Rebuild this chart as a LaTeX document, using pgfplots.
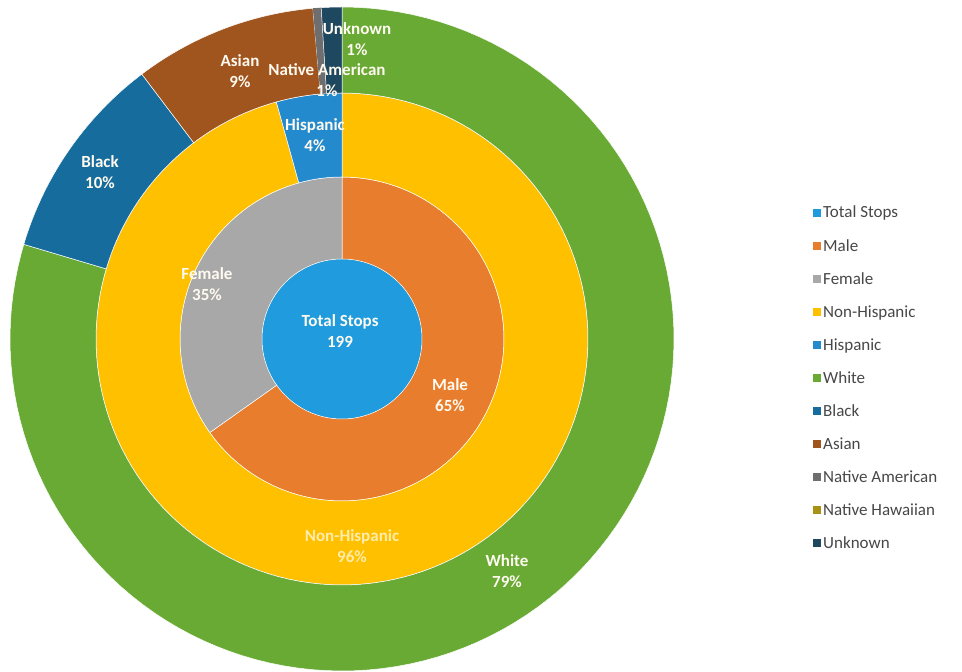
\documentclass[border=0pt]{standalone}
\usepackage{pgfplots}
\pgfplotsset{compat=1.18}
\usepackage{fontspec}
\setmainfont{Carlito}
\definecolor{cTotal}{RGB}{31,155,222}
\definecolor{cMale}{RGB}{232,125,45}
\definecolor{cFemale}{RGB}{168,168,168}
\definecolor{cNonHisp}{RGB}{255,192,0}
\definecolor{cHisp}{RGB}{36,138,206}
\definecolor{cWhite}{RGB}{104,170,52}
\definecolor{cBlack}{RGB}{22,108,156}
\definecolor{cAsian}{RGB}{160,84,30}
\definecolor{cNatAm}{RGB}{110,110,110}
\definecolor{cNatHaw}{RGB}{170,145,20}
\definecolor{cUnknown}{RGB}{30,72,96}
\definecolor{cLbl}{RGB}{255,250,240}
% ring sector: colour, inner radius, outer radius, start %, end % (clockwise from 12 o'clock)
% t in [0,1]: outer arc from start to end; t in [1,2]: inner arc back from end to start
\newcommand{\sector}[6][draw=white]{%
 \addplot[fill=#2, #1, line width=0.5pt, domain=0:2, samples=241, variable=\t]
 ({((\t<=1)?#4:#3)*cos(90-3.6*((\t<=1)?(#5+(#6-#5)*min(1,\t/0.98)):(#6-(#6-#5)*max(0,(\t-1.02)/0.98))))},
  {((\t<=1)?#4:#3)*sin(90-3.6*((\t<=1)?(#5+(#6-#5)*min(1,\t/0.98)):(#6-(#6-#5)*max(0,(\t-1.02)/0.98))))}) -- cycle;
}
\begin{document}
\begin{tikzpicture}
\begin{axis}[
  hide axis, scale only axis, width=962pt, height=671pt,
  xmin=-342, xmax=620, ymin=-332, ymax=339, clip=false,
  legend style={at={(axis cs:468,137)}, anchor=north west, draw=none, fill=none,
    font=\fontsize{17}{20}\selectfont, text=black!72, row sep=15.8pt,
    /tikz/every even column/.append style={column sep=4pt}},
  legend cell align=left,
  legend image code/.code={\fill[#1, draw=none] (0pt,-4pt) rectangle (8pt,4pt);},
]
% inner circle
\sector[draw=none]{cTotal}{0}{80}{0}{100}
\addlegendentry{Total Stops}
% gender ring
\sector{cMale}{80}{162}{0}{65.2}
\addlegendentry{Male}
\sector{cFemale}{80}{162}{65.2}{100}
\addlegendentry{Female}
% ethnicity ring
\sector{cNonHisp}{162}{246}{0}{95.7}
\addlegendentry{Non-Hispanic}
\sector{cHisp}{162}{246}{95.7}{100}
\addlegendentry{Hispanic}
% race ring
\sector{cWhite}{246}{332}{0}{79.6}
\addlegendentry{White}
\sector{cBlack}{246}{332}{79.6}{89.7}
\addlegendentry{Black}
\sector{cAsian}{246}{332}{89.7}{98.6}
\addlegendentry{Asian}
\sector[draw=none]{cNatAm}{246}{332}{98.6}{99.0}
\addlegendentry{Native American}
\addlegendimage{fill=cNatHaw}
\addlegendentry{Native Hawaiian}
\sector{cUnknown}{246}{332}{99.0}{100}
\addlegendentry{Unknown}
% labels
\begin{scope}[every node/.style={font=\bfseries\fontsize{17}{21.5}\selectfont, text=cLbl, align=center, inner sep=0.5pt}]
\node at (axis cs:-2,8) {Total Stops\\199};
\node at (axis cs:-135,55) {Female\\35\%};
\node at (axis cs:108,-56) {Male\\65\%};
\node[text={rgb,255:red,255;green,236;blue,170}] at (axis cs:10,-207) {Non-Hispanic\\96\%};
\node at (axis cs:-27,204) {Hispanic\\4\%};
\node at (axis cs:165,-232) {White\\79\%};
\node at (axis cs:-242,167) {Black\\10\%};
\node at (axis cs:-102,268) {Asian\\9\%};
\node at (axis cs:-15,259) {Native American\\1\%};
\node at (axis cs:15,300) {Unknown\\1\%};
\end{scope}
\path (rel axis cs:0,0) rectangle (rel axis cs:1,1);
\end{axis}
\end{tikzpicture}
\end{document}
